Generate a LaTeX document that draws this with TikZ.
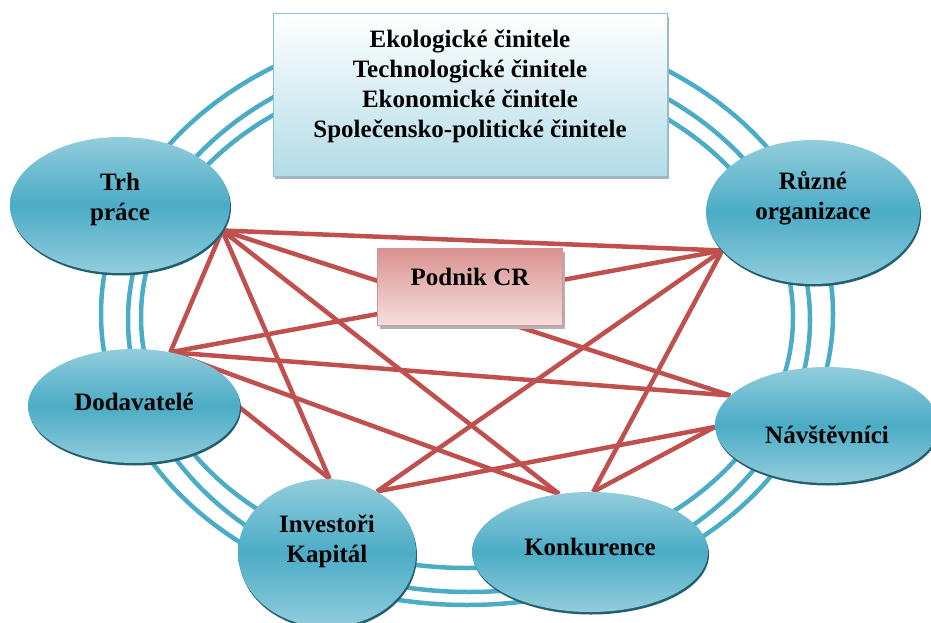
\documentclass[tikz,border=0pt]{standalone}
\usepackage{fontspec}
\setmainfont{Liberation Serif}
\usetikzlibrary{shapes.geometric,shadows,backgrounds}
\definecolor{ringblue}{RGB}{75,172,198}
\definecolor{ovallight}{RGB}{146,205,220}
\definecolor{ovalrim}{RGB}{34,96,112}
\definecolor{envline}{RGB}{130,197,216}
\definecolor{envfill}{RGB}{178,220,231}
\definecolor{linkred}{RGB}{192,80,77}
\definecolor{firmdark}{RGB}{218,146,144}
\definecolor{firmlight}{RGB}{245,224,223}
\newcommand{\lifted}[2]{\raisebox{#1}[0pt][0pt]{\begin{tabular}[b]{@{}c@{}}#2\end{tabular}}}
\tikzset{
  ring/.style={line width=4.5pt,ringblue},
  link/.style={line width=4.5pt,linkred},
  oval/.style={ellipse,inner sep=0pt,top color=ovallight,bottom color=ovallight,middle color=ringblue,
    drop shadow={shadow xshift=1pt,shadow yshift=-2.5pt,fill=ovalrim,opacity=1}},
  envbox/.style={rectangle,draw=envline,line width=1pt,inner sep=0pt,top color=white,bottom color=envfill,
    drop shadow={shadow xshift=2pt,shadow yshift=-3pt,fill=black!30,opacity=1}},
  firmbox/.style={rectangle,draw=firmdark,line width=1pt,inner sep=0pt,top color=firmdark,bottom color=firmlight,
    drop shadow={shadow xshift=2pt,shadow yshift=-3pt,fill=black!30,opacity=1}}
}

\begin{document}
\begin{tikzpicture}[x=1pt,y=-1pt]
  \fontsize{25}{30}\selectfont\bfseries
  \useasboundingbox (0,0) rectangle (931,623);
  \node[envbox, minimum width=394pt, minimum height=162pt] (env) at (470,95)
    {\lifted{-43pt}{Ekologické činitele\\Technologické činitele\\Ekonomické činitele\\Společensko-politické činitele}};
  \node[oval, minimum width=220pt, minimum height=136pt] (trh)    at (120,205) {\lifted{-15pt}{Trh\\práce}};
  \node[oval, minimum width=214pt, minimum height=144pt] (ruzne)  at (813,212) {\lifted{-7pt}{Různé\\organizace}};
  \node[oval, minimum width=212pt, minimum height=114pt] (dodav)  at (134,406) {\lifted{-4pt}{Dodavatelé}};
  \node[oval, minimum width=224pt, minimum height=116pt] (navst)  at (827,425) {\lifted{-18pt}{Návštěvníci}};
  \node[oval, minimum width=178pt, minimum height=148pt] (invest) at (327,553) {\lifted{-9pt}{Investoři\\Kapitál}};
  \node[oval, minimum width=236pt, minimum height=120pt] (konk)   at (590,552) {\lifted{-3pt}{Konkurence}};
  \node[firmbox, minimum width=185pt, minimum height=77pt] (firm) at (470,287) {\lifted{1.5pt}{Podnik CR}};
  \begin{scope}[on background layer]
    \draw[ring] (467,314) ellipse [x radius=366pt, y radius=291pt];
    \draw[ring] (469,320) ellipse [x radius=341pt, y radius=272pt];
    \draw[ring] (467,317) ellipse [x radius=326pt, y radius=251pt];
    \draw[link] (trh.-14) -- (ruzne.-157);
    \draw[link] (trh.-14) -- (dodav.56);
    \draw[link] (trh.-14) -- (invest.88);
    \draw[link] (trh.-14) -- (konk.118);
    \draw[link] (trh.-14) -- (navst.163);
    \draw[link] (ruzne.-157) -- (dodav.56);
    \draw[link] (ruzne.-157) -- (invest.51);
    \draw[link] (ruzne.-157) -- (konk.87);
    \draw[link] (dodav.56) -- (invest.88);
    \draw[link] (dodav.56) -- (konk.118);
    \draw[link] (dodav.56) -- (navst.163);
    \draw[link] (invest.51) -- (navst.181);
    \draw[link] (konk.87) -- (navst.181);
  \end{scope}
\end{tikzpicture}
\end{document}
